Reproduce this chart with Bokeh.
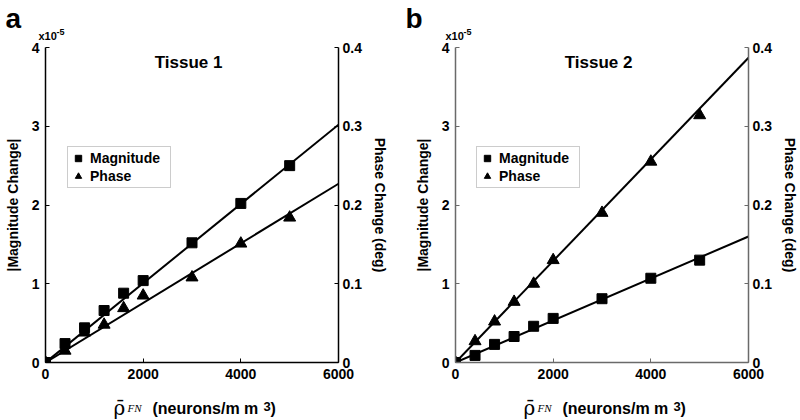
from bokeh.plotting import figure
from bokeh.models import Range1d, LinearAxis, Label, Legend, LegendItem, FixedTicker
from bokeh.layouts import row, column
from bokeh.core.properties import value
from bokeh.embed import file_html
from bokeh.resources import INLINE

# ---------------- data ----------------
density = [0, 400, 800, 1200, 1600, 2000, 3000, 4000, 5000]
mag_t1 = [0, 0.24, 0.44, 0.66, 0.88, 1.04, 1.52, 2.02, 2.50]          # x1e-5
phase_t1 = [0, 0.015, 0.038, 0.048, 0.069, 0.085, 0.108, 0.151, 0.184]  # deg
mag_t2 = [0, 0.09, 0.23, 0.33, 0.46, 0.56, 0.81, 1.07, 1.30]          # x1e-5
phase_t2 = [0, 0.027, 0.052, 0.077, 0.100, 0.130, 0.190, 0.255, 0.314]  # deg
fit_x = [0, 6000]
fit_mag_t1 = [0, 3.02]
fit_phase_t1 = [0, 0.227]
fit_mag_t2 = [0, 1.60]
fit_phase_t2 = [0, 0.387]
x_ticks = [0, 2000, 4000, 6000]
mag_ticks = [0, 1, 2, 3, 4]
phase_ticks = [0, 0.1, 0.2, 0.3, 0.4]

SANS = "Liberation Sans"
SERIF = "Liberation Serif"
W = 400


def style_axis(ax, color):
    ax.axis_line_color = color
    ax.axis_line_width = 1.5
    ax.major_tick_line_color = color
    ax.major_tick_in = 4
    ax.major_tick_out = 0
    ax.minor_tick_line_color = None
    ax.major_label_text_font = SANS
    ax.major_label_text_font_style = "bold"
    ax.major_label_text_font_size = "14px"
    ax.major_label_text_color = "black"
    ax.axis_label_text_font = SANS
    ax.axis_label_text_font_style = "bold"
    ax.axis_label_text_font_size = "14px"
    ax.axis_label_text_color = "black"


def strip(height):
    s = figure(width=W, height=height, output_backend="svg", toolbar_location=None,
               x_range=Range1d(0, W), y_range=Range1d(height, 0),
               min_border=0, x_axis_location=None, y_axis_location=None)
    s.outline_line_color = None
    s.grid.visible = False
    return s


def txt(s, x, y, t, font, size, style="bold", baseline="alphabetic"):
    s.text(x=[x], y=[y], text=[t], text_font=value(font), text_font_style=style,
           text_font_size=size, text_baseline=baseline, text_align="left",
           text_color="black")


def top_strip(letter, xl, xe):
    s = strip(40)
    txt(s, xl, 2, letter, SANS, "28px", baseline="top")
    txt(s, xe, 35, "x10", SANS, "11px")
    txt(s, xe + 18, 31, "-5", SANS, "9px")
    return s


def bottom_strip(xr):
    s = strip(34)
    txt(s, xr, 21, "\u03c1\u0304", "DejaVu Serif", "20px", "normal")
    txt(s, xr + 14, 21, "FN", SERIF, "11px", "italic")
    txt(s, xr + 39, 22, "(neurons/m m", SANS, "16px")
    txt(s, xr + 150, 20, "3", SANS, "13px")
    txt(s, xr + 157, 22, ")", SANS, "16px")
    return s


def make_panel(title, mag, phase, fit_mag, fit_phase, axis_color, bl, br, legend_loc):
    p = figure(width=W, height=346, output_backend="svg", toolbar_location=None,
               x_range=Range1d(0, 6000), y_range=Range1d(0, 4),
               min_border_left=bl, min_border_right=br,
               min_border_top=7, min_border_bottom=24,
               x_axis_location="below", y_axis_location="left")
    p.outline_line_color = None
    p.grid.visible = False
    p.extra_y_ranges = {"phase": Range1d(0, 0.4)}

    p.xaxis.ticker = FixedTicker(ticks=x_ticks)
    p.yaxis.ticker = FixedTicker(ticks=mag_ticks)
    p.yaxis.axis_label = "|Magnitude Change|"
    p.yaxis.axis_label_standoff = 8
    p.yaxis.major_label_standoff = 6
    p.xaxis.major_label_standoff = 6
    style_axis(p.xaxis[0], axis_color)
    style_axis(p.yaxis[0], axis_color)

    rax = LinearAxis(y_range_name="phase", ticker=FixedTicker(ticks=phase_ticks),
                     axis_label="Phase Change (deg)")
    rax.major_label_overrides = {0: "0"}
    rax.major_label_standoff = 4
    rax.axis_label_standoff = 7
    style_axis(rax, axis_color)
    p.add_layout(rax, "right")

    p.line(fit_x, fit_mag, line_color="black", line_width=2)
    p.line(fit_x, fit_phase, line_color="black", line_width=2, y_range_name="phase")
    sq = p.scatter(density, mag, marker="square", size=10, fill_color="black",
                   line_color="black")
    tr = p.scatter(density, phase, marker="triangle", size=12, fill_color="black",
                   line_color="black", y_range_name="phase")

    legend = Legend(items=[LegendItem(label="Magnitude", renderers=[sq]),
                           LegendItem(label="Phase", renderers=[tr])],
                    location=legend_loc)
    legend.label_text_font = SANS
    legend.label_text_font_style = "bold"
    legend.label_text_font_size = "14px"
    legend.label_text_color = "black"
    legend.border_line_color = "#999999"
    legend.border_line_width = 1
    legend.padding = 2
    legend.spacing = 0
    legend.glyph_width = 16
    legend.glyph_height = 18
    legend.label_height = 18
    legend.label_width = 78
    legend.label_standoff = 4
    legend.margin = 0
    p.add_layout(legend)

    p.add_layout(Label(x=2930, y=3.81, text=title, text_font=SANS,
                       text_font_style="bold", text_font_size="17px",
                       text_color="black",
                       text_align="center", text_baseline="alphabetic"))
    return p


pa = make_panel("Tissue 1", mag_t1, phase_t1, fit_mag_t1, fit_phase_t1,
                "black", 45, 62, (22, 174))
pb = make_panel("Tissue 2", mag_t2, phase_t2, fit_mag_t2, fit_phase_t2,
                "#6a6a6a", 55, 52, (21, 174))

layout = column(row(top_strip("a", 5, 38), top_strip("b", 5, 45)),
                row(pa, pb),
                row(bottom_strip(113), bottom_strip(123)))
open("out.html", "w").write(file_html(layout, INLINE))
